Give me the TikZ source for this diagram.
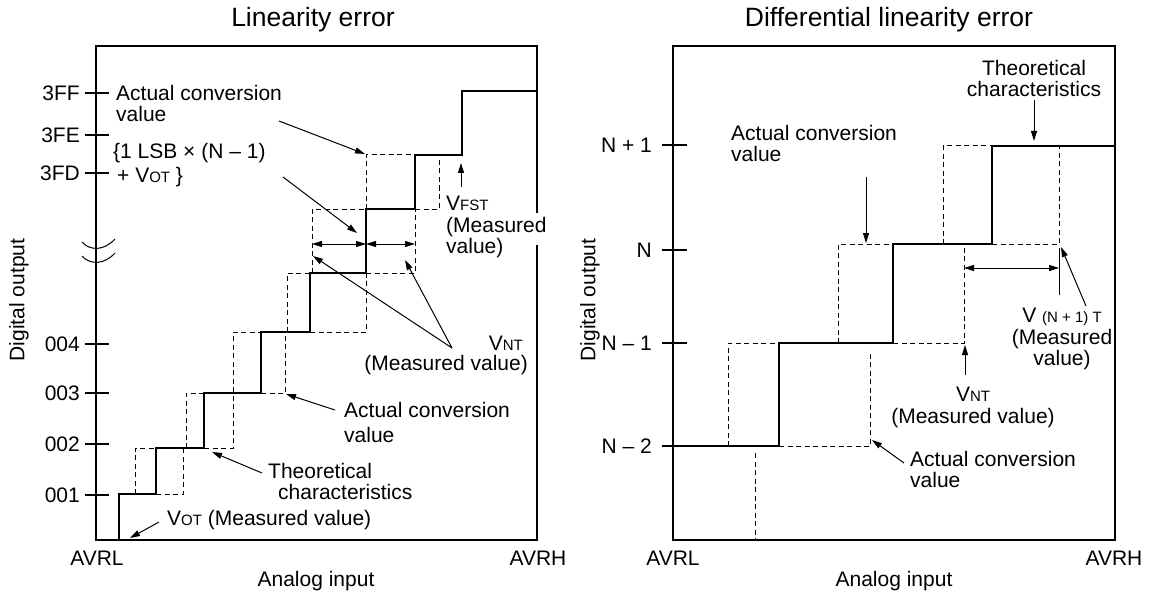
\documentclass[tikz,border=0pt]{standalone}
\usepackage{fontspec}
\setmainfont{Liberation Sans}
\usetikzlibrary{arrows.meta,positioning}
\newcommand{\bodyfont}{\fontsize{21}{21.5}\selectfont}
\newcommand{\titlefont}{\fontsize{26.5}{28}\selectfont}
\newcommand{\vsub}[1]{{\fontsize{15}{15}\selectfont #1}}

\begin{document}
\begin{tikzpicture}[
  x=1pt, y=-1pt,
  font=\bodyfont,
  >={Triangle[length=10pt,width=6pt]},
  axbox/.style={line width=2.4pt, line join=miter},
  stair/.style={line width=2.8pt, line join=miter},
  actual/.style={line width=1pt, dash pattern=on 5pt off 3.5pt},
  tick/.style={line width=1.2pt},
  lbl/.style={inner sep=0pt, align=left},
  arr/.style={->, line width=1pt},
  dim/.style={<->, line width=1pt},
]
\useasboundingbox (0,0) rectangle (1150,596);

% ---------------- left: linearity error
\node[font=\titlefont, anchor=base] (ltitle) at (313,27) {Linearity error};
\node[rotate=90] (lyax) at (19,300) {Digital output};
\node[anchor=base] (lavrl) at (97,565) {AVRL};
\node[anchor=base] (lavrh) at (538,565) {AVRH};
\node[anchor=base] (lxax) at (316,586) {Analog input};

% actual conversion (dashed)
\draw[actual] (135,494) -- (135,448) -- (156,448);
\draw[actual] (156,494) -- (183,494) -- (183,448);
\draw[actual] (186,448) -- (186,393) -- (204,393);
\draw[actual] (204,448) -- (233,448) -- (233,332) -- (261,332);
\draw[actual] (261,393) -- (285,393) -- (285,332);
\draw[actual] (287,332) -- (287,273) -- (310,273);
\draw[actual] (310,332) -- (366,332) -- (366,273);
\draw[actual] (312,273) -- (312,209) -- (366,209);
\draw[actual] (366,273) -- (415,273) -- (415,209);
\draw[actual] (366,209) -- (366,155) -- (415,155);
\draw[actual] (415,209) -- (439,209) -- (439,155);

% theoretical (solid)
\draw[stair] (119,540) -- (119,494) -- (156,494) -- (156,448) -- (204,448)
  -- (204,393) -- (261,393) -- (261,332) -- (310,332) -- (310,273)
  -- (366,273) -- (366,209) -- (415,209) -- (415,155) -- (462,155)
  -- (462,91) -- (537,91);

\draw[axbox] (537,213) -- (537,46) -- (96,46) -- (96,540) -- (537,540) -- (537,245);

\foreach \y/\t/\k in {93/3FF/a, 135/3FE/b, 173/3FD/c, 344/004/d,
                      393/003/e, 444/002/f, 495/001/g} {
  \draw[tick] (85,\y) -- (109,\y);
  \node[lbl, anchor=east] (lt\k) at (80,\y) {\t};
}
% axis break
\draw[line width=1pt] (82,242) .. controls (90,251) and (104,251) .. (115,239);
\draw[line width=1pt] (82,256) .. controls (90,265) and (104,265) .. (115,253);

\node[lbl, anchor=north west] (lact) at (116,85) {Actual conversion\\value};
\node[lbl, anchor=north west] (llsb) at (113,143)
  {\{1 LSB × (N – 1)\\[3pt]\hspace*{4pt}+ V\vsub{OT} \}};
\node[lbl, anchor=north west] (lfst) at (446,196) {V\vsub{FST}\\(Measured\\value)};
\node[lbl, align=right, anchor=north east] (lnt) at (528,336)
  {V\vsub{NT}\hspace*{5pt}\\[-2pt](Measured value)};
\node[lbl, anchor=north west] (lact2) at (344,402) {Actual conversion\\[3.5pt]value};
\node[lbl, anchor=north west] (lth) at (268,463) {Theoretical\\\hspace*{10pt}characteristics};
\node[lbl, anchor=base west] (lot) at (167,525) {V\vsub{OT} (Measured value)};

\coordinate (a1s) at (279,121); \coordinate (a1e) at (365,154);
\coordinate (a2s) at (283,177); \coordinate (a2e) at (357,233);
\coordinate (a3s) at (461,187); \coordinate (a3e) at (461,163);
\coordinate (ntj) at (452,348);
\coordinate (a4e) at (313,256); \coordinate (a5e) at (405,260);
\coordinate (a6s) at (335,410); \coordinate (a6e) at (286,394);
\coordinate (a7s) at (262,473); \coordinate (a7e) at (212,452);
\coordinate (a8s) at (159,522); \coordinate (a8e) at (130,538);
\draw[arr] (a1s) -- (a1e);
\draw[arr] (a2s) -- (a2e);
\draw[arr] (a3s) -- (a3e);
\draw[arr] (ntj) -- (a4e);
\draw[arr] (ntj) -- (a5e);
\draw[arr] (a6s) -- (a6e);
\draw[arr] (a7s) -- (a7e);
\draw[arr] (a8s) -- (a8e);
\coordinate (d1) at (312,244); \coordinate (d2) at (366,244); \coordinate (d3) at (415,244);
\draw[dim] (d1) -- (d2);
\draw[dim] (d2) -- (d3);

% ---------------- right: differential linearity error
\node[font=\titlefont, anchor=base] (rtitle) at (889,27) {Differential linearity error};
\node[rotate=90] (ryax) at (590,300) {Digital output};
\node[anchor=base] (ravrl) at (673,565) {AVRL};
\node[anchor=base] (ravrh) at (1114,565) {AVRH};
\node[anchor=base] (rxax) at (894,586) {Analog input};

\draw[actual] (728,446) -- (728,343) -- (779,343);
\draw[actual] (755,453) -- (755,540);
\draw[actual] (779,446) -- (870,446) -- (870,350);
\draw[actual] (838,343) -- (838,244) -- (893,244);
\draw[actual] (893,343) -- (964,343) -- (964,244);
\draw[actual] (943,244) -- (943,146) -- (992,146);
\draw[actual] (992,244) -- (1059,244) -- (1059,146);

\draw[stair] (673,446) -- (779,446) -- (779,343) -- (893,343) -- (893,244)
  -- (992,244) -- (992,146) -- (1115,146);

\draw[axbox] (673,46) rectangle (1115,540);

\foreach \y/\t/\k in {145/N + 1/a, 250/N/b, 343/N – 1/c, 446/N – 2/d} {
  \draw[tick] (662,\y) -- (687,\y);
  \node[lbl, anchor=east] (rt\k) at (652,\y) {\t};
}

\node[lbl, anchor=north west] (ract) at (731,125) {Actual conversion\\value};
\node[lbl, align=center, anchor=north] (rth) at (1034,60) {Theoretical\\characteristics};
\node[lbl, align=center, anchor=north] (rn1) at (1062,308)
  {V \vsub{(N + 1) T}\\(Measured\\value)};
\node[lbl, align=center, anchor=north] (rnt) at (973,387) {V\vsub{NT}\\(Measured value)};
\node[lbl, anchor=north west] (ract2) at (910,451) {Actual conversion\\value};

\coordinate (b1s) at (866,177); \coordinate (b1e) at (866,243);
\coordinate (b2s) at (1034,100); \coordinate (b2e) at (1034,141);
\coordinate (b3s) at (1086,306); \coordinate (b3e) at (1061,247);
\coordinate (b4s) at (965,375); \coordinate (b4e) at (965,345);
\coordinate (b5s) at (904,463); \coordinate (b5e) at (872,440);
\draw[arr] (b1s) -- (b1e);
\draw[arr] (b2s) -- (b2e);
\draw[arr] (b3s) -- (b3e);
\draw[arr] (b4s) -- (b4e);
\draw[arr] (b5s) -- (b5e);
\coordinate (e1) at (1059,248); \coordinate (e2) at (1059,295);
\draw[line width=1pt] (e1) -- (e2);
\coordinate (d4) at (964,268); \coordinate (d5) at (1059,268);
\draw[dim] (d4) -- (d5);
\end{tikzpicture}
\end{document}
